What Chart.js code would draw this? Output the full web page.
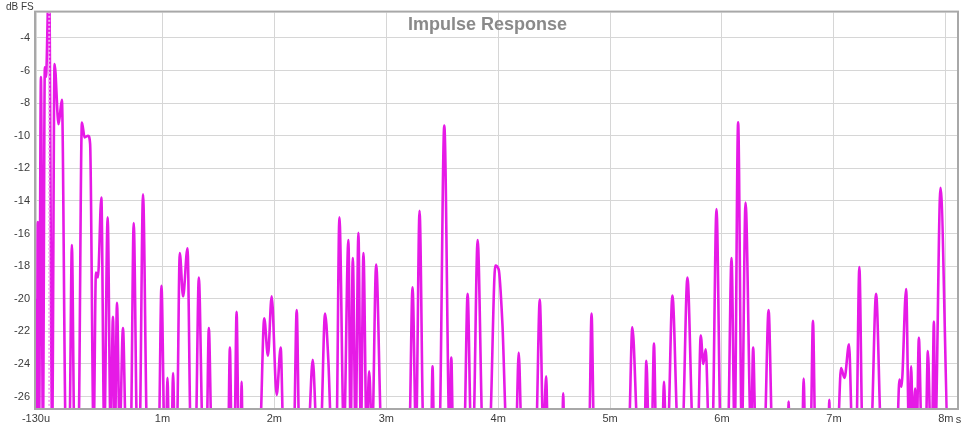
<!DOCTYPE html>
<html>
<head>
<meta charset="utf-8">
<script src="https://cdn.jsdelivr.net/npm/chart.js@4.4.1/dist/chart.umd.min.js"></script>
<style>
html, body { margin: 0; padding: 0; background: #fff; }
#wrap { width: 975px; height: 427px; }
</style>
</head>
<body>
<div id="wrap"><canvas id="ir" width="975" height="427"></canvas></div>
<script>
// time in ms, level in dB FS (values below the axis floor are just "off the bottom")
const times = [
  -0.130, -0.1218, -0.1137, -0.1030, -0.0859, -0.0680, -0.0510, -0.0412, -0.0134, 0.0143,
  0.0358, 0.0716, 0.1012, 0.1370, 0.1683, 0.1907, 0.2131, 0.2489, 0.2802, 0.3044,
  0.3357, 0.3536, 0.3850, 0.4055, 0.4235, 0.4539, 0.4799, 0.5103, 0.5372, 0.5577,
  0.5757, 0.5936, 0.6177, 0.6473, 0.6741, 0.7162, 0.7431, 0.7744, 0.7950, 0.8263,
  0.8639, 0.9669, 0.9911, 1.0188, 1.0322, 1.0448, 1.0582, 1.0815, 1.0949, 1.1101,
  1.1280, 1.1549, 1.1844, 1.2238, 1.2534, 1.2963, 1.3250, 1.3608, 1.3948, 1.4145,
  1.4396, 1.5873, 1.6025, 1.6186, 1.6437, 1.6625, 1.6813, 1.6992, 1.7073, 1.7162,
  1.8693, 1.9096, 1.9427, 1.9758, 2.0206, 2.0564, 2.0815, 2.1737, 2.1997, 2.2230,
  2.3008, 2.3429, 2.3814, 2.4127, 2.4530, 2.4825, 2.5112, 2.5542, 2.5811, 2.6213,
  2.6616, 2.6813, 2.7010, 2.7261, 2.7511, 2.7735, 2.7959, 2.8245, 2.8469, 2.8738,
  2.9096, 2.9589, 3.2050, 3.2346, 3.2659, 3.2973, 3.3331, 3.4002, 3.4136, 3.4271,
  3.4736, 3.5184, 3.5659, 3.5810, 3.5972, 3.6956, 3.7270, 3.7583, 3.7762, 3.8165,
  3.8631, 3.9212, 3.9750, 4.0045, 4.0376, 4.0779, 4.1585, 4.1835, 4.2104, 4.3376,
  4.3716, 4.4038, 4.4289, 4.4441, 4.5712, 4.5811, 4.5909, 4.8120, 4.8344, 4.8568,
  5.1657, 5.1988, 5.2507, 5.3071, 5.3241, 5.3474, 5.3716, 5.3922, 5.4118, 5.4656,
  5.4817, 5.4996, 5.5148, 5.5569, 5.6088, 5.6446, 5.6911, 5.7431, 5.7834, 5.8102,
  5.8326, 5.8550, 5.8845, 5.9133, 5.9508, 5.9893, 6.0520, 6.0851, 6.1129, 6.1442,
  6.1773, 6.2104, 6.2597, 6.2785, 6.3009, 6.3787, 6.4164, 6.4504, 6.5873, 6.5954,
  6.6034, 6.7163, 6.7297, 6.7440, 6.7915, 6.8129, 6.8344, 6.9508, 6.9589, 6.9669,
  7.0323, 7.0636, 7.0949, 7.1352, 7.1648, 7.1997, 7.2274, 7.2561, 7.3304, 7.3769,
  7.4244, 7.5632, 7.5856, 7.6035, 7.6455, 7.6715, 7.6903, 7.7064, 7.7261, 7.7396,
  7.7593, 7.7843, 7.8202, 7.8398, 7.8649, 7.8766, 7.8935, 7.9051, 7.9526, 8.0233,
  8.1
];
const levels = [
  -20.0, -28.5, -15.3, -28.5, -6.4, -28.5, -5.8, -6.4, 0.0, -28.5,
  -5.6, -9.3, -7.8, -28.5, -28.5, -16.7, -28.5, -28.5, -9.2, -10.1,
  -10.0, -10.5, -28.5, -18.4, -18.7, -13.8, -28.5, -15.0, -28.5, -21.1,
  -28.5, -20.25, -28.5, -21.8, -28.5, -28.5, -15.35, -28.5, -28.5, -13.6,
  -28.5, -28.5, -19.2, -28.5, -28.5, -24.85, -28.5, -28.5, -24.55, -28.5,
  -28.5, -17.2, -19.85, -16.9, -28.5, -28.5, -18.7, -28.5, -28.5, -21.8,
  -28.5, -28.5, -23.0, -28.5, -28.5, -20.8, -28.5, -28.5, -25.1, -28.5,
  -28.5, -21.2, -23.5, -19.85, -25.9, -23.0, -28.5, -28.5, -20.7, -28.5,
  -28.5, -23.75, -28.5, -28.5, -20.9, -23.8, -28.5, -28.5, -15.0, -28.5,
  -16.4, -28.5, -17.5, -28.5, -15.96, -28.5, -17.2, -28.5, -24.45, -28.5,
  -17.9, -28.5, -28.5, -19.3, -28.5, -14.6, -28.5, -28.5, -24.15, -28.5,
  -28.5, -9.38, -28.5, -23.6, -28.5, -28.5, -19.7, -28.5, -28.5, -16.4,
  -28.5, -28.5, -17.97, -18.2, -21.5, -28.5, -28.5, -23.3, -28.5, -28.5,
  -20.05, -28.5, -24.75, -28.5, -28.5, -25.8, -28.5, -28.5, -20.9, -28.5,
  -28.5, -21.75, -28.5, -28.5, -23.8, -28.5, -28.5, -22.75, -28.5, -28.5,
  -25.1, -28.5, -28.5, -19.8, -28.5, -28.5, -18.7, -28.5, -28.5, -22.25,
  -24.0, -23.1, -28.5, -28.5, -14.5, -28.5, -28.5, -17.5, -28.5, -9.18,
  -28.5, -14.1, -28.5, -23.0, -28.5, -28.5, -20.7, -28.5, -28.5, -26.3,
  -28.5, -28.5, -24.9, -28.5, -28.5, -21.35, -28.5, -28.5, -26.2, -28.5,
  -28.5, -24.25, -24.85, -22.8, -28.5, -28.5, -18.05, -28.5, -28.5, -19.7,
  -28.5, -28.5, -24.95, -25.4, -19.4, -28.5, -24.15, -28.5, -25.5, -28.5,
  -22.4, -28.5, -28.5, -23.2, -28.5, -28.5, -21.4, -28.5, -13.2, -28.5,
  -28.5
];
const markerTime = -0.012;
const markerLevels = [-30, 5];
const xTicks = [-0.13, 1, 2, 3, 4, 5, 6, 7, 8];
const yTicks = [-26, -24, -22, -20, -18, -16, -14, -12, -10, -8, -6, -4];

const FONT = '"Liberation Sans", Arial, sans-serif';
Chart.defaults.font.family = FONT;
Chart.defaults.font.size = 11;
Chart.defaults.color = '#3c3c3c';

const decor = {
    id: 'decor',
    afterDraw(chart) {
        const { ctx, chartArea: a, scales } = chart;
        ctx.save();
        ctx.strokeStyle = '#a8a8a8';
        ctx.lineWidth = 2;
        ctx.strokeRect(a.left - 1, a.top - 1, a.right - a.left + 2, a.bottom - a.top + 2);
        ctx.fillStyle = '#8a8a8a';
        ctx.font = 'bold 18px ' + FONT;
        ctx.textAlign = 'center';
        ctx.textBaseline = 'alphabetic';
        ctx.fillText('Impulse Response', chart.width / 2, 30);
        ctx.fillStyle = '#3c3c3c';
        ctx.font = '10px ' + FONT;
        ctx.textAlign = 'left';
        ctx.fillText('dB FS', 6, 9.5);
        // unit after the last x label, on the same line as "8m"
        ctx.font = '11px ' + FONT;
        ctx.fillText('s', scales.x.getPixelForValue(8) + 10, 422.5);
        ctx.restore();
    }
};

new Chart(document.getElementById('ir'), {
    type: 'line',
    data: {
        datasets: [
            {
                data: markerLevels.map(v => ({ x: markerTime, y: v })),
                borderColor: '#f2a6f2',
                borderWidth: 2,
                borderDash: [2, 2],
                pointRadius: 0
            },
            {
                data: times.map((t, i) => ({ x: t, y: levels[i] })),
                borderColor: '#e61ae6',
                borderWidth: 2.6,
                pointRadius: 0,
                cubicInterpolationMode: 'monotone'
            }
        ]
    },
    options: {
        responsive: false,
        animation: false,
        events: [],
        layout: { padding: { top: 12.5, right: 18, left: 0, bottom: 0 } },
        plugins: { legend: { display: false }, tooltip: { enabled: false }, title: { display: false } },
        scales: {
            x: {
                type: 'linear',
                min: -0.13,
                max: 8.1,
                afterBuildTicks: s => { s.ticks = xTicks.map(v => ({ value: v })); },
                afterFit: s => { s.height = 19; },
                grid: { color: '#d6d6d6', drawTicks: false },
                border: { display: false },
                ticks: {
                    padding: 4,
                    maxRotation: 0,
                    autoSkip: false,
                    callback: v => (v < 0 ? '-130u' : v + 'm')
                }
            },
            y: {
                min: -26.7,
                max: -2.45,
                afterBuildTicks: s => { s.ticks = yTicks.map(v => ({ value: v })); },
                afterFit: s => { s.width = 36; },
                grid: { color: '#d6d6d6', drawTicks: false },
                border: { display: false },
                ticks: { padding: 6, autoSkip: false }
            }
        }
    },
    plugins: [decor]
});
</script>
</body>
</html>
